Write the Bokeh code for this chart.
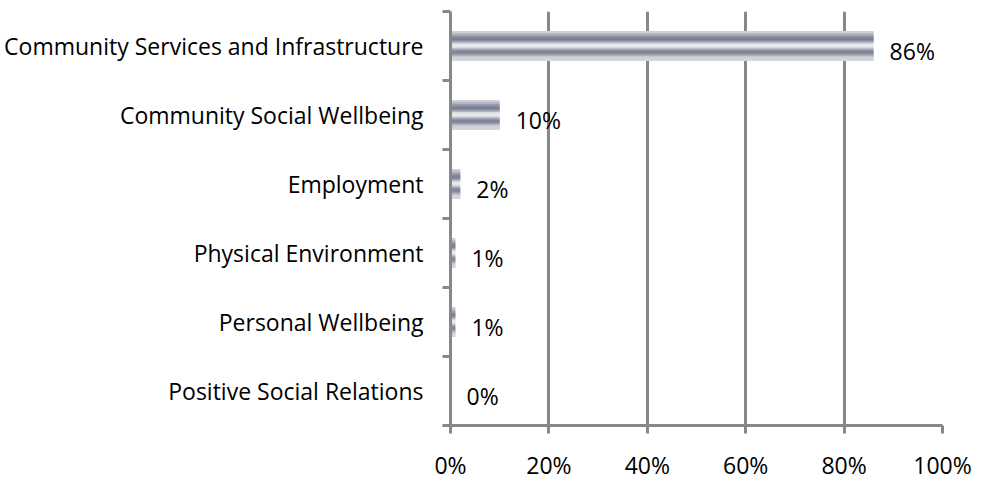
from bokeh.plotting import figure
from bokeh.models import Range1d, FixedTicker, PrintfTickFormatter, ColumnDataSource
from bokeh.core.properties import value
from bokeh.embed import file_html
from bokeh.resources import INLINE

categories = [
    "Community Services and Infrastructure",
    "Community Social Wellbeing",
    "Employment",
    "Physical Environment",
    "Personal Wellbeing",
    "Positive Social Relations",
]
percent = [86, 10, 2, 1, 1, 0]
x_ticks = [0, 20, 40, 60, 80, 100]

FONT = "Open Sans"
FSIZE = "23px"
GRAY = "#888888"
STRIPES = ["#cdd0d6", "#b4b7c2", "#9a9eae", "#81869a", "#7a7f93", "#a3a7b4",
           "#d9dbe0", "#eeeff1", "#d9dbe0", "#a3a7b4", "#7e8397", "#878b9d",
           "#aeb1bd", "#cdd0d6", "#d3d5da"]
BAR_H = 0.424

n = len(categories)
centers = [n - i - 0.5 for i in range(n)]

p = figure(x_range=Range1d(0, 100), y_range=Range1d(0, n),
           frame_width=492, frame_height=414,
           min_border_left=450, min_border_right=33,
           min_border_top=11, min_border_bottom=53,
           output_backend="svg", toolbar_location=None)
p.outline_line_color = None
p.background_fill_color = "white"
p.border_fill_color = "white"

# bars as stacked horizontal stripes (metallic gradient)
k = len(STRIPES)
sh = BAR_H / k
for j, col in enumerate(STRIPES):
    off = BAR_H / 2 - sh * (j + 0.5)
    src = ColumnDataSource(dict(y=[c + off for c in centers], right=percent))
    p.hbar(y="y", left=0, right="right", height=sh * 1.4, source=src,
           fill_color=col, line_color=None)

# value labels
p.text(x=percent, y=centers, text=[f"{v}%" for v in percent],
       x_offset=16, y_offset=5, text_baseline="middle", text_align="left",
       text_font=value(FONT), text_font_size=FSIZE, text_color="black")

# grid
p.ygrid.grid_line_color = None
p.xgrid.grid_line_color = GRAY
p.xgrid.grid_line_width = 3
p.xaxis.ticker = FixedTicker(ticks=x_ticks)

# x axis
xa = p.xaxis[0]
xa.formatter = PrintfTickFormatter(format="%d%%")
xa.axis_line_color = GRAY
xa.axis_line_width = 3
xa.major_tick_line_color = GRAY
xa.major_tick_line_width = 3
xa.major_tick_out = 8
xa.major_tick_in = 0
xa.minor_tick_line_color = None
xa.major_label_standoff = 15
xa.major_label_text_font = FONT
xa.major_label_text_font_size = FSIZE
xa.major_label_text_color = "black"

# y axis
ya = p.yaxis[0]
ya.ticker = FixedTicker(ticks=centers, minor_ticks=list(range(n + 1)))
ya.major_label_overrides = {c: cat for c, cat in zip(centers, categories)}
ya.axis_line_color = GRAY
ya.axis_line_width = 3
ya.major_tick_line_color = None
ya.major_tick_out = 0
ya.major_tick_in = 0
ya.minor_tick_line_color = GRAY
ya.minor_tick_line_width = 3
ya.minor_tick_out = 8
ya.minor_tick_in = 0
ya.major_label_standoff = 19
ya.major_label_text_font = FONT
ya.major_label_text_font_size = FSIZE
ya.major_label_text_color = "black"

open("out.html", "w").write(file_html(p, INLINE))
